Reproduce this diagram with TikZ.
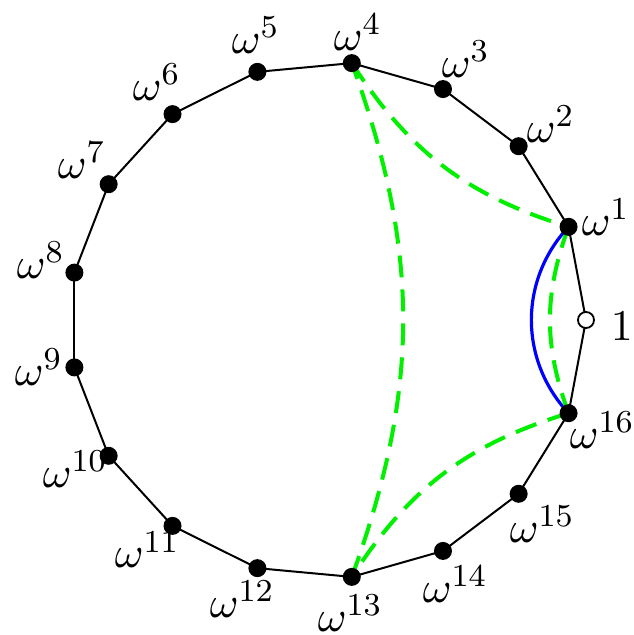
\documentclass[tikz,border=0pt]{standalone}
\usepackage{tikz}
\usetikzlibrary{calc}
\definecolor{lgreen}{RGB}{0,240,0}
\begin{document}
\begin{tikzpicture}[x=0.25pt,y=0.25pt,
  edge/.style={line width=0.5pt,black},
  vdot/.style={circle,fill=black,inner sep=0pt,minimum size=4.5pt},
  odot/.style={circle,draw=black,fill=white,line width=0.45pt,inner sep=0pt,minimum size=4pt},
  gdash/.style={draw=lgreen,line width=1pt,dash pattern=on 5.5pt off 3pt},
  barc/.style={draw=blue,line width=0.8pt},
  lab/.style={anchor=base west,inner sep=0pt,font=\fontsize{11pt}{13pt}\selectfont}]
\useasboundingbox (0,0) rectangle (634,635);
\coordinate (c) at (328,315);
\foreach \k in {0,...,16}{
  \coordinate (p\k) at ($(c)+(360*\k/17:258)$);
}
% polygon
\foreach \k [evaluate=\k as \n using {int(mod(\k+1,17))}] in {0,...,16}{
  \draw[edge] (p\k) -- (p\n);
}
% arcs
\draw[barc] (p1) to[bend right=43] (p16);
\draw[gdash] (p4) to[bend right=20] (p1);
\draw[gdash] (p1) to[bend right=20] (p16);
\draw[gdash] (p16) to[bend right=20] (p13);
\draw[gdash] (p13) to[bend right=20] (p4);
% dots
\node[odot] (v0) at (p0) {};
\foreach \k in {1,...,16}{
  \node[vdot] (v\k) at (p\k) {};
}
% labels
\node[lab] (l0) at (610,295) {$1$};
\node[lab] (l1) at (581,400) {$\omega^{1}$};
\node[lab] (l2) at (526,493) {$\omega^{2}$};
\node[lab] (l3) at (441,558) {$\omega^{3}$};
\node[lab] (l4) at (333,585) {$\omega^{4}$};
\node[lab] (l5) at (231,582) {$\omega^{5}$};
\node[lab] (l6) at (132,535) {$\omega^{6}$};
\node[lab] (l7) at (57,457) {$\omega^{7}$};
\node[lab] (l8) at (16,357) {$\omega^{8}$};
\node[lab] (l9) at (14,250) {$\omega^{9}$};
\node[lab] (l10) at (42,148) {$\omega^{10}$};
\node[lab] (l11) at (114,67) {$\omega^{11}$};
\node[lab] (l12) at (209,18) {$\omega^{12}$};
\node[lab] (l13) at (317,4) {$\omega^{13}$};
\node[lab] (l14) at (422,33) {$\omega^{14}$};
\node[lab] (l15) at (509,93) {$\omega^{15}$};
\node[lab] (l16) at (569,187) {$\omega^{16}$};
\end{tikzpicture}
\end{document}
